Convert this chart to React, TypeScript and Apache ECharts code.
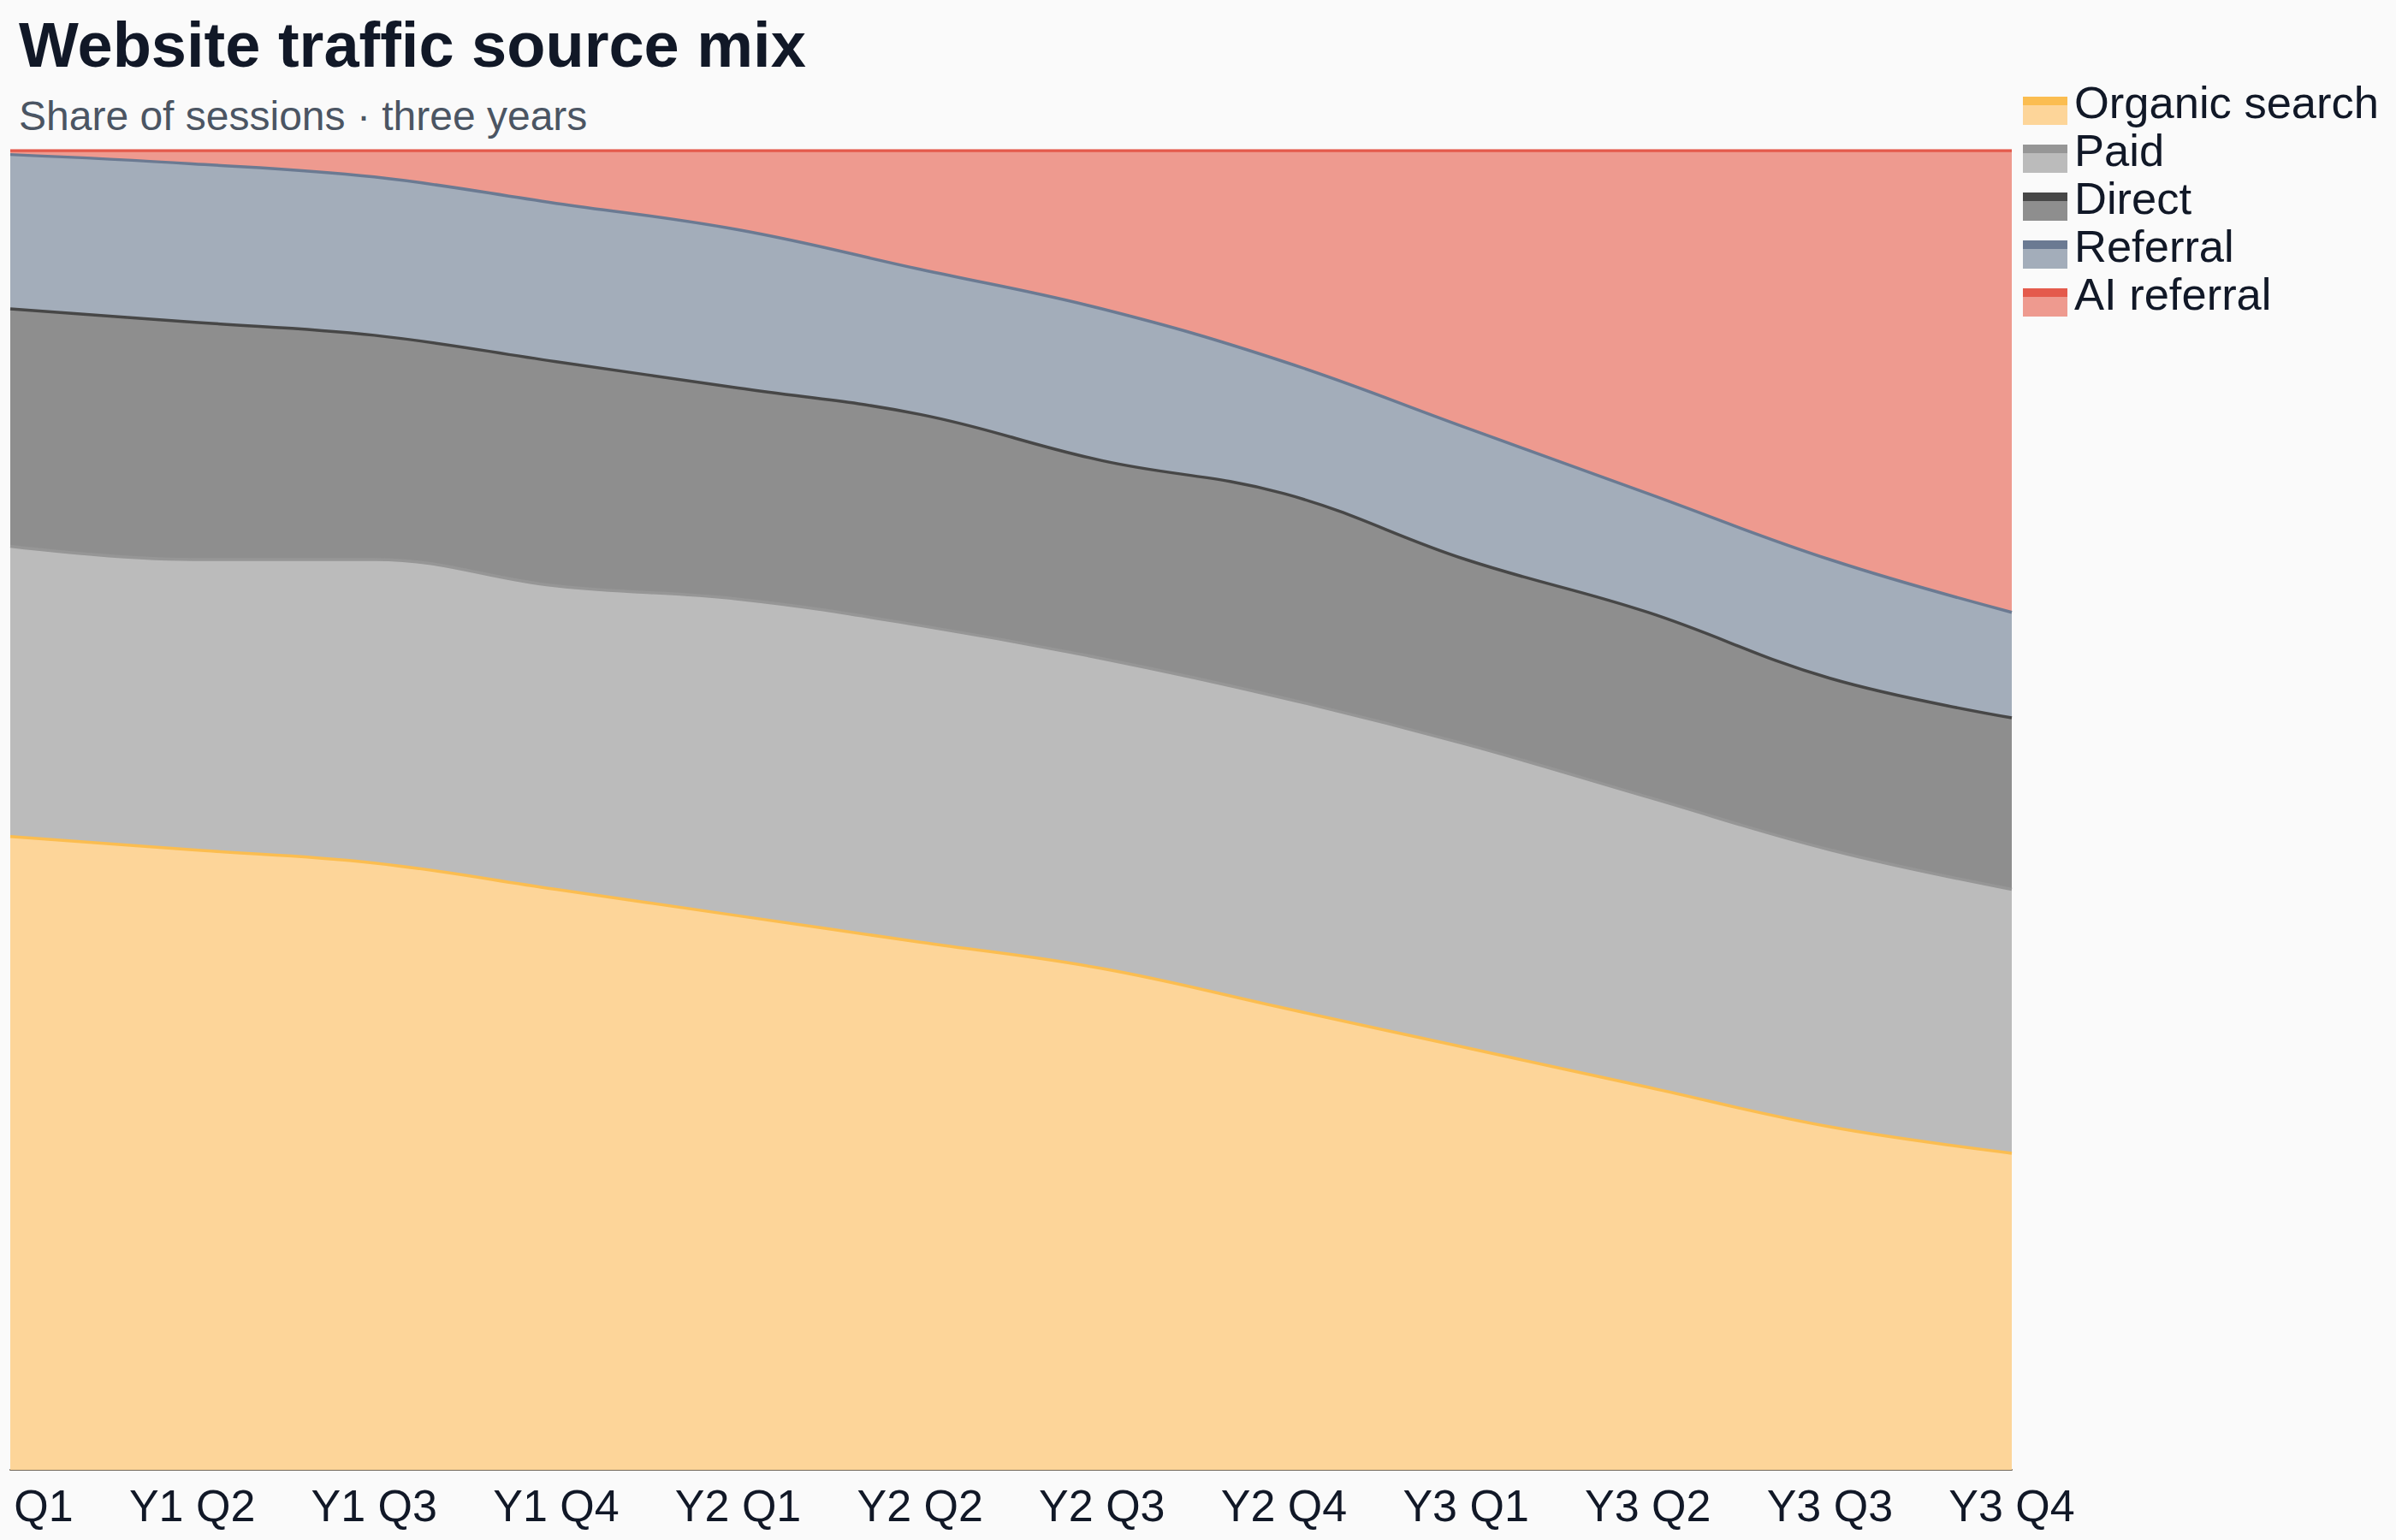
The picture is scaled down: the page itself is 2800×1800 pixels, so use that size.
import { useEffect, useRef } from "react";
import * as echarts from "echarts";

// quarters on the x axis
const categories = [
  "Y1 Q1", "Y1 Q2", "Y1 Q3", "Y1 Q4",
  "Y2 Q1", "Y2 Q2", "Y2 Q3", "Y2 Q4",
  "Y3 Q1", "Y3 Q2", "Y3 Q3", "Y3 Q4",
];

// share of sessions (%), stacked bottom to top
const organicSearch = [48, 47, 46, 44, 42, 40, 38, 35, 32, 29, 26, 24];
const paid = [22, 22, 23, 23, 24, 24, 23.5, 23.5, 23, 22, 21, 20];
const direct = [18, 18, 17, 17, 16, 16, 15, 15.5, 14, 14, 13, 13];
const referral = [11.7, 12, 12, 12, 12, 11, 11.5, 10, 10, 9, 9, 8];
const aiReferral = [0.3, 1, 2, 4, 6, 9, 12, 16, 21, 26, 31, 35];

const seriesNames = ["Organic search", "Paid", "Direct", "Referral", "AI referral"];
const seriesValues = [organicSearch, paid, direct, referral, aiReferral];
const lineColors = ["#fbbd50", "#969696", "#474747", "#6b7a92", "#e45a4c"];
const areaColors = ["#fdd599", "#bbbbbb", "#8e8e8e", "#a3adba", "#ee9a8f"];

const FONT = "'Liberation Sans', Arial, Helvetica, sans-serif";

export default function App() {
  const chartRef = useRef<HTMLDivElement>(null);

  useEffect(() => {
    if (!chartRef.current) return;
    const chart = echarts.init(chartRef.current, null, { renderer: "svg" });

    // legend drawn by hand: area swatch with a line-coloured stripe on top
    const legendItems: any[] = [];
    seriesNames.forEach((name, i) => {
      const top = 113 + i * 56;
      legendItems.push(
        {
          type: "rect",
          shape: { x: 2364, y: top, width: 52, height: 33 },
          style: { fill: areaColors[i] },
        },
        {
          type: "rect",
          shape: { x: 2364, y: top, width: 52, height: 10 },
          style: { fill: lineColors[i] },
        },
        {
          type: "text",
          x: 2424,
          y: top + 6,
          style: {
            text: name,
            fontSize: 52.5,
            fontFamily: FONT,
            fill: "#111827",
            align: "left",
            verticalAlign: "middle",
          },
        }
      );
    });

    const option: echarts.EChartsOption = {
      animation: false,
      backgroundColor: "#fafafa",
      title: [
        {
          text: "Website traffic source mix",
          left: 22,
          top: 15,
          padding: 0,
          textStyle: { fontSize: 74, fontWeight: "bold", color: "#111827", fontFamily: FONT },
        },
        {
          text: "Share of sessions · three years",
          left: 22,
          top: 111,
          padding: 0,
          textStyle: { fontSize: 48, fontWeight: "normal", color: "#4b5563", fontFamily: FONT },
        },
      ],
      grid: {
        left: 12,
        right: 449,
        top: 176,
        bottom: 82,
        containLabel: false,
        outerBoundsMode: "none",
      } as any,
      xAxis: {
        type: "category",
        data: categories,
        boundaryGap: false,
        axisLine: { lineStyle: { color: "#72685a", width: 2 } },
        axisTick: { show: false },
        axisLabel: {
          interval: 0,
          margin: 16,
          fontSize: 52,
          color: "#111827",
          fontFamily: FONT,
        },
        splitLine: { show: false },
      },
      yAxis: {
        type: "value",
        min: 0,
        max: 100,
        show: false,
        splitLine: { show: false },
      },
      series: seriesNames.map((name, i) => ({
        type: "line",
        name,
        stack: "total",
        smooth: 0.4,
        symbol: "none",
        data: seriesValues[i],
        lineStyle: { width: 3.5, color: lineColors[i] },
        itemStyle: { color: lineColors[i] },
        areaStyle: { color: areaColors[i], opacity: 1 },
      })),
      graphic: legendItems,
    };

    chart.setOption(option);
    return () => {
      chart.dispose();
    };
  }, []);

  return (
    <div
      ref={chartRef}
      style={{ position: "absolute", left: 0, top: 0, width: "2800px", height: "1800px" }}
    />
  );
}
